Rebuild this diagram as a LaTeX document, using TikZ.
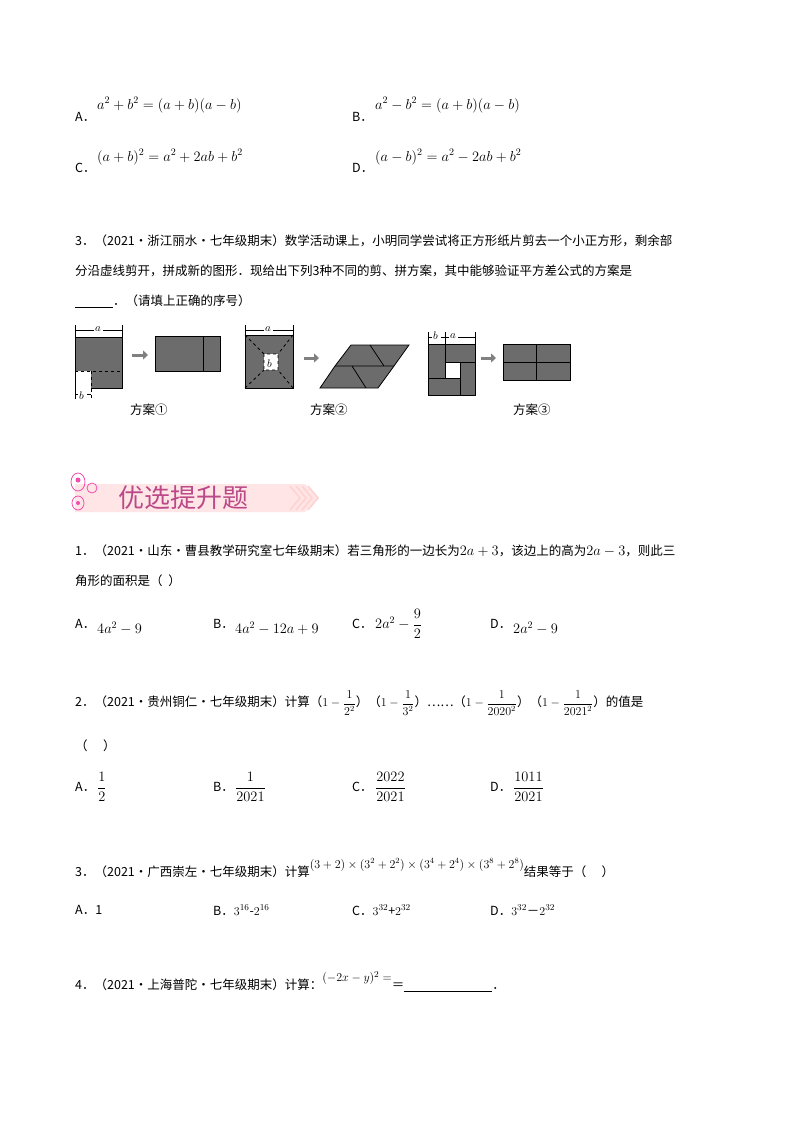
\documentclass[tikz,border=0pt]{standalone}
\usepackage{amsmath}
\usepackage{fontspec}
\newfontfamily\cjk{Noto Sans CJK SC}
\usetikzlibrary{arrows.meta}
\tikzset{t/.style={anchor=west,inner sep=0pt,font=\cjk\fontsize{12.5}{15}\selectfont},
 m/.style={anchor=west,inner sep=0pt,font=\fontsize{14}{16}\selectfont},
 g/.style={fill=gray!85!black,draw=black,line width=0.8pt},
 cut/.style={dashed,line width=0.8pt}}
\begin{document}
\begin{tikzpicture}[x=1pt,y=-1pt]
\useasboundingbox[fill=white] (0,0) rectangle (800,1132);
% top options
\node[t] (a1) at (75,117) {A．}; \node[m] at (97,105) {$a^2+b^2=(a+b)(a-b)$};
\node[t] (b1) at (352,117) {B．}; \node[m] at (375,105) {$a^2-b^2=(a+b)(a-b)$};
\node[t] (c1) at (75,168) {C．}; \node[m] at (97,157) {$(a+b)^2=a^2+2ab+b^2$};
\node[t] (d1) at (352,168) {D．}; \node[m] at (375,157) {$(a-b)^2=a^2-2ab+b^2$};
% problem 3
\node[t] (p3) at (75,241) {3．（2021·浙江丽水·七年级期末）数学活动课上，小明同学尝试将正方形纸片剪去一个小正方形，剩余部};
\node[t] at (75,271) {分沿虚线剪开，拼成新的图形．现给出下列3种不同的剪、拼方案，其中能够验证平方差公式的方案是};
\node[t] at (75,301) {\underline{\hspace{38pt}}．（请填上正确的序号）};
% fig1
\fill[gray!85!black] (75,337) rectangle (122,371) (91,371) rectangle (122,388);
\draw[line width=0.8pt] (75,325)--(75,399) (122,325)--(122,388)--(91,388) (75,337)--(122,337);
\draw[cut] (75,371)--(122,371) (91,371)--(91,399);
\draw (75,330)--(94,330) (103,330)--(122,330); \node[m,font=\fontsize{11}{12}\selectfont] at (95,329) {$a$};
\draw (75,394)--(78,394) (87,394)--(91,394); \node[m,font=\fontsize{11}{12}\selectfont] at (79,396) {$b$};
\draw[-{Triangle[length=5pt,width=9pt]},line width=3pt,gray] (132,355)--(148,355);
\draw[g] (155,336) rectangle (220,371); \draw[line width=0.8pt] (203,336)--(203,371);
\node[t] at (130,410) {方案①};
% fig2
\fill[gray!85!black] (245,335) rectangle (293,388);
\fill[white] (264,354) rectangle (278,370);
\draw[line width=0.8pt] (245,325)--(245,388)--(293,388)--(293,325) (245,335)--(293,335);
\draw[cut] (245,335)--(264,354) (293,335)--(278,354) (245,388)--(264,370) (293,388)--(278,370) (264,354) rectangle (278,370);
\draw (245,330)--(264,330) (273,330)--(293,330); \node[m,font=\fontsize{11}{12}\selectfont] at (265,329) {$a$};
\node[m,font=\fontsize{11}{12}\selectfont] at (267,364) {$b$};
\draw[-{Triangle[length=5pt,width=9pt]},line width=3pt,gray] (304,358)--(319,358);
\draw[g] (320,388)--(335,366)--(351,345)--(409,345)--(394,366)--(378,388)--cycle;
\draw[line width=0.8pt] (335,366)--(394,366) (370,345)--(384,366) (352,366)--(366,388);
\node[t] at (310,410) {方案②};
% fig3
\fill[gray!85!black] (428,344) rectangle (475,395);
\fill[white] (445,362) rectangle (460,378);
\draw[line width=0.8pt] (428,332)--(428,395)--(475,395)--(475,332) (428,344)--(475,344) (428,344)--(428,395);
\draw[line width=0.8pt] (445,332)--(445,378) (445,362)--(475,362) (460,362)--(460,395) (428,378)--(460,378);
\draw (428,337)--(432,337) (441,337)--(449,337) (458,337)--(475,337);
\node[m,font=\fontsize{11}{12}\selectfont] at (433,336) {$b$}; \node[m,font=\fontsize{11}{12}\selectfont] at (450,336) {$a$};
\draw[-{Triangle[length=5pt,width=9pt]},line width=3pt,gray] (481,358)--(496,358);
\draw[g] (503,344) rectangle (570,380); \draw[line width=0.8pt] (503,362)--(570,362) (536,344)--(536,380);
\node[t] at (513,410) {方案③};
% banner
\fill[pink!40] (75,484)--(305,484)--(318,498)--(305,512)--(75,512)--cycle;
\foreach \i in {0,6,12,18} \draw[pink!70,line width=1.5pt] (290+\i,486)--(300+\i,498)--(290+\i,510);
\draw[magenta!70,line width=0.8pt] (78,482) ellipse (7 and 9) (78,503) ellipse (6 and 7) (92,488) circle (5);
\fill[magenta!70] (78,480) circle (2.5) (78,503) circle (2);
\node[anchor=west,inner sep=0pt,font=\cjk\fontsize{26}{30}\selectfont,text=magenta!70!black!90] (ban) at (118,498) {优选提升题};
% q1
\node[t] (q1) at (75,551) {1．（2021·山东·曹县教学研究室七年级期末）若三角形的一边长为{\fontsize{15}{16}\selectfont$2a+3$}，该边上的高为{\fontsize{15}{16}\selectfont$2a-3$}，则此三};
\node[t] at (75,581) {角形的面积是（ \ ）};
\node[t] at (75,624) {A．}; \node[m] at (97,628) {$4a^2-9$};
\node[t] at (213,624) {B．}; \node[m] at (235,628) {$4a^2-12a+9$};
\node[t] at (352,624) {C．}; \node[m] at (375,624) {$2a^2-\dfrac92$};
\node[t] at (490,624) {D．}; \node[m] at (513,628) {$2a^2-9$};
% q2
\node[t] (q2) at (75,703) {2．（2021·贵州铜仁·七年级期末）计算（{\fontsize{12}{14}\selectfont$1-\dfrac1{2^2}$}）（{\fontsize{12}{14}\selectfont$1-\dfrac1{3^2}$}）……（{\fontsize{12}{14}\selectfont$1-\dfrac1{2020^2}$}）（{\fontsize{12}{14}\selectfont$1-\dfrac1{2021^2}$}）的值是};
\node[t] at (75,746) {（ \quad ）};
\node[t] at (75,787) {A．}; \node[m] at (97,787) {$\dfrac12$};
\node[t] at (213,787) {B．}; \node[m] at (235,787) {$\dfrac1{2021}$};
\node[t] at (352,787) {C．}; \node[m] at (375,787) {$\dfrac{2022}{2021}$};
\node[t] at (490,787) {D．}; \node[m] at (513,787) {$\dfrac{1011}{2021}$};
% q3
\node[t] (q3) at (75,868) {3．（2021·广西崇左·七年级期末）计算\raisebox{8pt}{\fontsize{12}{14}\selectfont$(3+2)\times(3^2+2^2)\times(3^4+2^4)\times(3^8+2^8)$}结果等于（ \quad ）};
\node[t] at (75,910) {A．1}; \node[t] at (213,910) {B．$3^{16}$-$2^{16}$};
\node[t] at (352,910) {C．$3^{32}$+$2^{32}$}; \node[t] at (490,910) {D．$3^{32}$－$2^{32}$};
% q4
\node[t] (q4) at (75,982) {4．（2021·上海普陀·七年级期末）计算：\raisebox{8pt}{\fontsize{12.5}{14}\selectfont$(-2x-y)^2=$}＝\underline{\hspace{88pt}}．};
\end{tikzpicture}
\end{document}
